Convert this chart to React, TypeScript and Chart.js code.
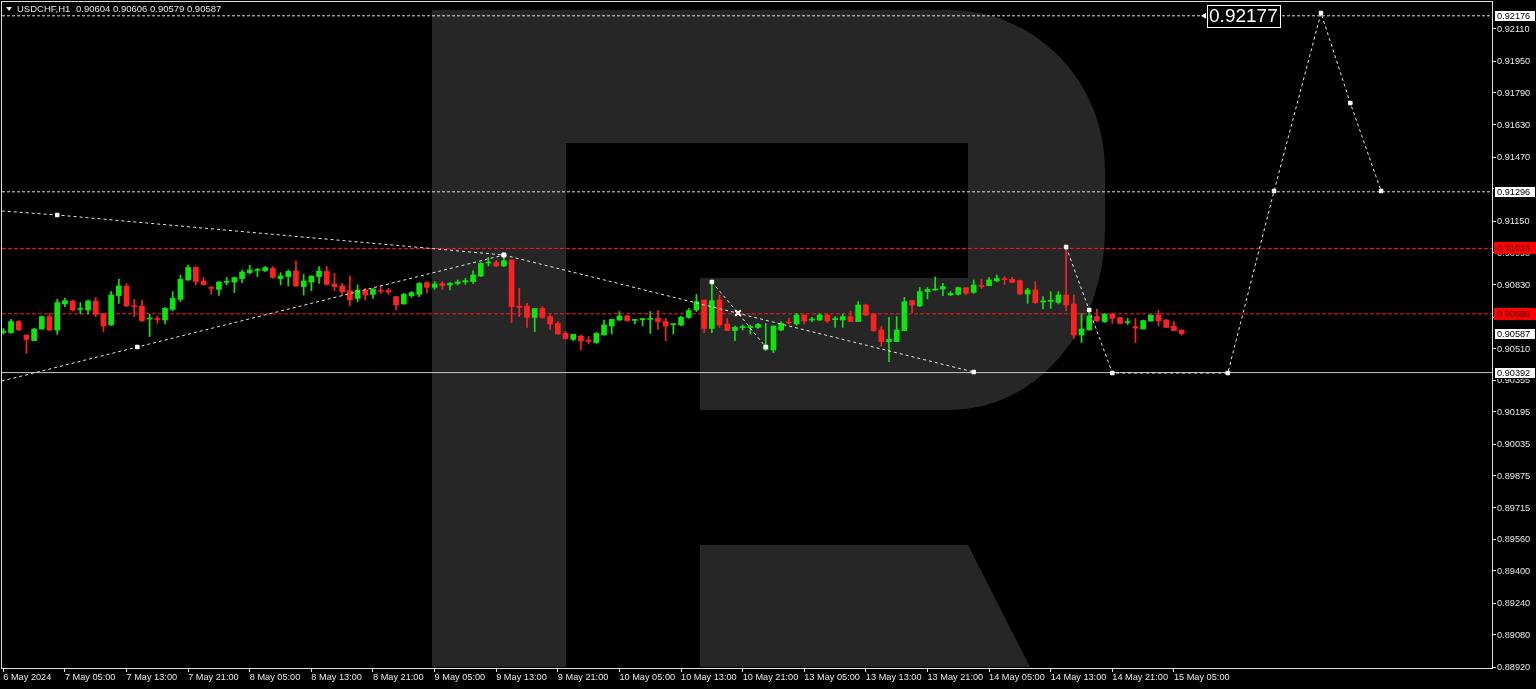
import React, { useEffect, useRef } from 'react';
import { Chart, registerables } from 'chart.js';

Chart.register(...registerables);

// ---- Data (USDCHF H1), bar index 0 = 6 May 21:00 ----
const opens = [
  0.90593, 0.90592, 0.90647, 0.90580, 0.90552, 0.90610, 0.90672, 0.90605, 0.90735, 0.90750,
  0.90708, 0.90705, 0.90750, 0.90685, 0.90630, 0.90777, 0.90825, 0.90727, 0.90725, 0.90660,
  0.90663, 0.90655, 0.90708, 0.90758, 0.90855, 0.90918, 0.90850, 0.90818, 0.90808, 0.90843,
  0.90845, 0.90862, 0.90892, 0.90903, 0.90902, 0.90913, 0.90862, 0.90872, 0.90900, 0.90822,
  0.90845, 0.90872, 0.90898, 0.90835, 0.90825, 0.90802, 0.90763, 0.90805, 0.90783, 0.90803,
  0.90802, 0.90772, 0.90735, 0.90777, 0.90783, 0.90842, 0.90818, 0.90837, 0.90830, 0.90838,
  0.90845, 0.90847, 0.90875, 0.90940, 0.90942, 0.90925, 0.90955, 0.90725, 0.90725, 0.90668,
  0.90713, 0.90672, 0.90638, 0.90588, 0.90558, 0.90575, 0.90552, 0.90542, 0.90580, 0.90625,
  0.90655, 0.90675, 0.90653, 0.90657, 0.90658, 0.90663, 0.90648, 0.90632, 0.90630, 0.90668,
  0.90705, 0.90755, 0.90613, 0.90755, 0.90635, 0.90602, 0.90617, 0.90617, 0.90618, 0.90508,
  0.90505, 0.90605, 0.90645, 0.90635, 0.90680, 0.90655, 0.90655, 0.90680, 0.90657, 0.90655,
  0.90672, 0.90647, 0.90730, 0.90685, 0.90605, 0.90547, 0.90547, 0.90602, 0.90752, 0.90725,
  0.90797, 0.90805, 0.90810, 0.90780, 0.90783, 0.90817, 0.90793, 0.90828, 0.90827, 0.90850,
  0.90862, 0.90858, 0.90852, 0.90785, 0.90805, 0.90745, 0.90748, 0.90743, 0.90780, 0.90735,
  0.90580, 0.90605, 0.90672, 0.90647, 0.90685, 0.90667, 0.90642, 0.90622, 0.90610, 0.90650,
  0.90680, 0.90655, 0.90625, 0.90604,
];
const highs = [
  0.90613, 0.90658, 0.90652, 0.90580, 0.90613, 0.90675, 0.90688, 0.90758, 0.90763, 0.90755,
  0.90742, 0.90755, 0.90768, 0.90688, 0.90797, 0.90858, 0.90838, 0.90758, 0.90755, 0.90683,
  0.90675, 0.90718, 0.90797, 0.90880, 0.90930, 0.90922, 0.90868, 0.90822, 0.90847, 0.90868,
  0.90870, 0.90905, 0.90928, 0.90913, 0.90922, 0.90922, 0.90892, 0.90905, 0.90950, 0.90883,
  0.90875, 0.90922, 0.90922, 0.90888, 0.90838, 0.90875, 0.90830, 0.90813, 0.90813, 0.90822,
  0.90813, 0.90772, 0.90788, 0.90797, 0.90842, 0.90847, 0.90847, 0.90847, 0.90842, 0.90855,
  0.90863, 0.90902, 0.90942, 0.90968, 0.90955, 0.90980, 0.90955, 0.90813, 0.90738, 0.90713,
  0.90722, 0.90680, 0.90647, 0.90597, 0.90583, 0.90580, 0.90572, 0.90592, 0.90655, 0.90658,
  0.90697, 0.90678, 0.90658, 0.90663, 0.90697, 0.90702, 0.90663, 0.90635, 0.90675, 0.90713,
  0.90783, 0.90755, 0.90852, 0.90780, 0.90663, 0.90625, 0.90630, 0.90630, 0.90638, 0.90638,
  0.90625, 0.90647, 0.90663, 0.90688, 0.90680, 0.90668, 0.90685, 0.90685, 0.90672, 0.90685,
  0.90700, 0.90747, 0.90735, 0.90685, 0.90622, 0.90668, 0.90672, 0.90768, 0.90752, 0.90818,
  0.90817, 0.90870, 0.90838, 0.90797, 0.90820, 0.90817, 0.90855, 0.90860, 0.90867, 0.90880,
  0.90872, 0.90867, 0.90855, 0.90813, 0.90847, 0.90772, 0.90797, 0.90797, 0.91015, 0.90780,
  0.90688, 0.90705, 0.90710, 0.90688, 0.90688, 0.90668, 0.90663, 0.90663, 0.90655, 0.90680,
  0.90702, 0.90658, 0.90647, 0.90606,
];
const lows = [
  0.90585, 0.90588, 0.90602, 0.90488, 0.90550, 0.90608, 0.90600, 0.90583, 0.90722, 0.90700,
  0.90685, 0.90685, 0.90672, 0.90597, 0.90628, 0.90738, 0.90722, 0.90672, 0.90647, 0.90572,
  0.90638, 0.90635, 0.90702, 0.90747, 0.90853, 0.90830, 0.90830, 0.90783, 0.90778, 0.90830,
  0.90792, 0.90842, 0.90885, 0.90872, 0.90897, 0.90863, 0.90830, 0.90825, 0.90822, 0.90780,
  0.90802, 0.90838, 0.90830, 0.90802, 0.90780, 0.90725, 0.90747, 0.90755, 0.90763, 0.90788,
  0.90783, 0.90705, 0.90735, 0.90768, 0.90772, 0.90792, 0.90808, 0.90808, 0.90805, 0.90830,
  0.90833, 0.90838, 0.90872, 0.90925, 0.90922, 0.90922, 0.90642, 0.90672, 0.90618, 0.90597,
  0.90663, 0.90608, 0.90585, 0.90558, 0.90552, 0.90505, 0.90535, 0.90538, 0.90580, 0.90585,
  0.90652, 0.90648, 0.90635, 0.90625, 0.90588, 0.90608, 0.90552, 0.90585, 0.90625, 0.90663,
  0.90697, 0.90592, 0.90592, 0.90618, 0.90602, 0.90552, 0.90605, 0.90585, 0.90613, 0.90502,
  0.90492, 0.90602, 0.90635, 0.90630, 0.90635, 0.90647, 0.90652, 0.90642, 0.90618, 0.90618,
  0.90647, 0.90647, 0.90675, 0.90597, 0.90525, 0.90447, 0.90547, 0.90602, 0.90692, 0.90722,
  0.90760, 0.90803, 0.90777, 0.90777, 0.90780, 0.90780, 0.90788, 0.90813, 0.90827, 0.90847,
  0.90833, 0.90842, 0.90780, 0.90738, 0.90738, 0.90710, 0.90713, 0.90735, 0.90702, 0.90563,
  0.90542, 0.90605, 0.90647, 0.90643, 0.90638, 0.90635, 0.90633, 0.90542, 0.90610, 0.90650,
  0.90625, 0.90617, 0.90600, 0.90579,
];
const closes = [
  0.90600, 0.90647, 0.90605, 0.90558, 0.90610, 0.90672, 0.90605, 0.90742, 0.90752, 0.90705,
  0.90713, 0.90750, 0.90683, 0.90625, 0.90780, 0.90825, 0.90725, 0.90722, 0.90652, 0.90665,
  0.90658, 0.90713, 0.90763, 0.90858, 0.90918, 0.90847, 0.90832, 0.90813, 0.90845, 0.90847,
  0.90867, 0.90895, 0.90905, 0.90907, 0.90917, 0.90868, 0.90875, 0.90898, 0.90825, 0.90850,
  0.90875, 0.90900, 0.90833, 0.90822, 0.90797, 0.90755, 0.90805, 0.90780, 0.90808, 0.90798,
  0.90795, 0.90730, 0.90783, 0.90792, 0.90838, 0.90818, 0.90835, 0.90828, 0.90838, 0.90845,
  0.90852, 0.90880, 0.90938, 0.90943, 0.90925, 0.90952, 0.90722, 0.90718, 0.90668, 0.90713,
  0.90668, 0.90635, 0.90585, 0.90562, 0.90583, 0.90550, 0.90548, 0.90588, 0.90630, 0.90658,
  0.90675, 0.90652, 0.90657, 0.90660, 0.90663, 0.90647, 0.90625, 0.90635, 0.90668, 0.90702,
  0.90747, 0.90613, 0.90752, 0.90630, 0.90602, 0.90618, 0.90620, 0.90620, 0.90633, 0.90525,
  0.90625, 0.90638, 0.90640, 0.90680, 0.90650, 0.90658, 0.90680, 0.90650, 0.90660, 0.90672,
  0.90647, 0.90730, 0.90680, 0.90602, 0.90547, 0.90558, 0.90605, 0.90747, 0.90730, 0.90797,
  0.90808, 0.90810, 0.90822, 0.90788, 0.90817, 0.90788, 0.90830, 0.90823, 0.90855, 0.90863,
  0.90857, 0.90843, 0.90785, 0.90805, 0.90742, 0.90748, 0.90752, 0.90780, 0.90730, 0.90580,
  0.90610, 0.90675, 0.90652, 0.90683, 0.90663, 0.90638, 0.90645, 0.90615, 0.90652, 0.90680,
  0.90650, 0.90618, 0.90602, 0.90587,
];

// Time axis labels (every 8 bars)
const xTickIndex = [0, 8, 16, 24, 32, 40, 48, 56, 64, 72, 80, 88, 96, 104, 112, 120, 128, 136, 144, 152];
const xTickLabels = [
  '6 May 2024', '7 May 05:00', '7 May 13:00', '7 May 21:00', '8 May 05:00', '8 May 13:00',
  '8 May 21:00', '9 May 05:00', '9 May 13:00', '9 May 21:00', '10 May 05:00', '10 May 13:00',
  '10 May 21:00', '13 May 05:00', '13 May 13:00', '13 May 21:00', '14 May 05:00', '14 May 13:00',
  '14 May 21:00', '15 May 05:00',
];

// Price axis ticks
const yTickValues = [
  0.92110, 0.91950, 0.91790, 0.91630, 0.91470, 0.91310, 0.91150, 0.90990, 0.90830, 0.90670,
  0.90510, 0.90355, 0.90195, 0.90035, 0.89875, 0.89715, 0.89560, 0.89400, 0.89240, 0.89080, 0.88920,
];
const yTickLabels = [
  '0.92110', '0.91950', '0.91790', '0.91630', '0.91470', '0.91310', '0.91150', '0.90990', '0.90830', '0.90670',
  '0.90510', '0.90355', '0.90195', '0.90035', '0.89875', '0.89715', '0.89560', '0.89400', '0.89240', '0.89080', '0.88920',
];

// Horizontal levels
const levelPrices = [0.92176, 0.91296, 0.91013, 0.90686, 0.90392];
const levelKinds = ['dotWhite', 'dotWhite', 'dashRed', 'dashRed', 'solid'];

// Forecast polylines (bar index, price)
const fcUpperX = [-0.2, 7, 65];
const fcUpperY = [0.91200, 0.91180, 0.90980];
const fcLowerX = [-0.2, 17.4, 65];
const fcLowerY = [0.90350, 0.90520, 0.90980];
const fcDownX = [65, 126];
const fcDownY = [0.90980, 0.90395];
const fcMidX = [92, 95.4, 99];
const fcMidY = [0.90845, 0.90690, 0.90520];
const fcMainX = [138, 141, 144, 159, 165, 171.1, 174.9, 178.9];
const fcMainY = [0.91020, 0.90705, 0.90390, 0.90390, 0.91300, 0.92190, 0.91740, 0.91300];

// Right axis price boxes
const boxPrices = [0.92176, 0.91296, 0.91013, 0.90686, 0.90587, 0.90392];
const boxTexts = ['0.92176', '0.91296', '0.91013', '0.90686', '0.90587', '0.90392'];
const boxKinds = ['white', 'white', 'red', 'red', 'white', 'white'];

// Text object on chart
const noteIndex = 156.3;
const notePrice = 0.92176;
const noteText = '0.92177';

const headerSymbol = 'USDCHF,H1';
const headerValues = '0.90604 0.90606 0.90579 0.90587';

const X_MIN = -0.17;
const X_MAX = 193.3;
const Y_MIN = 0.88915;
const Y_MAX = 0.92245;

const FONT = 'Liberation Sans';
const BULL = '#0ce60c';
const BEAR = '#ff2020';
const TEXT = '#e6e6e6';
const WM = '#262626';

const pts = (xs: number[], ys: number[]) => xs.map((x, i) => ({ x, y: ys[i] }));

const zeroPadding = (s: any) => {
  s.paddingLeft = 0;
  s.paddingRight = 0;
  s.paddingTop = 0;
  s.paddingBottom = 0;
};

export default function App() {
  const ref = useRef<HTMLCanvasElement | null>(null);

  useEffect(() => {
    const canvas = ref.current;
    if (!canvas) return;

    const colors = opens.map((o, i) => (closes[i] >= o ? BULL : BEAR));

    const levelDatasets = levelPrices.map((p, i) => {
      const kind = levelKinds[i];
      return {
        type: 'line' as const,
        data: [{ x: X_MIN, y: p }, { x: X_MAX, y: p }],
        borderColor: kind === 'dashRed' ? '#ff1a1a' : kind === 'solid' ? '#c8c8c8' : '#dcdcdc',
        borderWidth: 1,
        borderDash: kind === 'dashRed' ? [4, 2] : kind === 'solid' ? [] : [3, 2],
        pointRadius: 0,
        order: 5,
      };
    });

    const fcStyle = (data: { x: number; y: number }[], radii: number[], styles?: string[]) => ({
      type: 'line' as const,
      data,
      borderColor: '#e6e6e6',
      borderWidth: 1,
      borderDash: [3, 3],
      pointRadius: radii,
      pointStyle: styles || 'rect',
      pointBackgroundColor: '#ffffff',
      pointBorderColor: '#ffffff',
      pointBorderWidth: styles ? styles.map((s) => (s === 'crossRot' ? 2 : 1)) : 1,
      tension: 0,
      order: 0,
    });

    const chart = new Chart(canvas, {
      type: 'bar',
      data: {
        datasets: [
          ...levelDatasets,
          {
            type: 'bar',
            data: opens.map((_, i) => ({ x: i, y: [lows[i], highs[i]] })),
            backgroundColor: colors,
            borderWidth: 0,
            barThickness: 1,
            grouped: false,
            order: 3,
          } as any,
          {
            type: 'bar',
            data: opens.map((o, i) => ({ x: i, y: [o, closes[i]] })),
            backgroundColor: colors,
            borderWidth: 0,
            barThickness: 5,
            minBarLength: 1,
            grouped: false,
            order: 2,
          } as any,
          fcStyle(pts(fcUpperX, fcUpperY), [0, 2.5, 2.5]),
          fcStyle(pts(fcLowerX, fcLowerY), [0, 2.5, 2.5]),
          fcStyle(pts(fcDownX, fcDownY), [2.5, 2.5]),
          fcStyle(pts(fcMidX, fcMidY), [2.5, 4, 2.5], ['rect', 'crossRot', 'rect']),
          fcStyle(pts(fcMainX, fcMainY), [2.5, 2.5, 2.5, 2.5, 2.5, 2.5, 2.5, 2.5]),
        ] as any,
      },
      options: {
        animation: false,
        responsive: false,
        devicePixelRatio: 1,
        layout: { autoPadding: false, padding: { left: 2, top: 2, right: 0, bottom: 0 } },
        plugins: { legend: { display: false }, tooltip: { enabled: false }, title: { display: false } },
        scales: {
          x: {
            type: 'linear',
            min: X_MIN,
            max: X_MAX,
            offset: false,
            bounds: 'data',
            grid: { display: true, offset: false, drawOnChartArea: false, drawTicks: true, tickLength: 4, color: '#e0e0e0' },
            border: { display: false },
            afterBuildTicks: (s: any) => {
              s.ticks = xTickIndex.map((v) => ({ value: v }));
            },
            afterFit: (s: any) => {
              s.height = 21;
              zeroPadding(s);
            },
            ticks: {
              autoSkip: false,
              maxRotation: 0,
              minRotation: 0,
              align: 'start',
              padding: 0,
              color: TEXT,
              font: { family: FONT, size: 9.2 },
              callback: (_v: any, idx: number) => xTickLabels[idx],
            },
          },
          y: {
            type: 'linear',
            position: 'right',
            min: Y_MIN,
            max: Y_MAX,
            beginAtZero: false,
            bounds: 'data',
            grid: { display: true, drawOnChartArea: false, drawTicks: true, tickLength: 4, color: '#e0e0e0' },
            border: { display: false },
            afterBuildTicks: (s: any) => {
              s.ticks = yTickValues.map((v) => ({ value: v }));
            },
            afterFit: (s: any) => {
              s.width = 44;
              zeroPadding(s);
            },
            ticks: {
              autoSkip: false,
              padding: 1,
              color: TEXT,
              font: { family: FONT, size: 9.2 },
              callback: (_v: any, idx: number) => yTickLabels[idx],
            },
          },
        },
      } as any,
      plugins: [
        {
          id: 'decor',
          beforeDraw(c: any) {
            const ctx = c.ctx as CanvasRenderingContext2D;
            ctx.save();
            ctx.fillStyle = '#000';
            ctx.fillRect(0, 0, c.width, c.height);
            // watermark logo
            ctx.fillStyle = WM;
            ctx.beginPath();
            ctx.moveTo(432, 10);
            ctx.lineTo(950, 10);
            ctx.ellipse(950, 170, 155, 160, 0, -Math.PI / 2, 0, false);
            ctx.lineTo(1105, 230);
            ctx.ellipse(950, 230, 155, 180, 0, 0, Math.PI / 2, false);
            ctx.lineTo(700, 410);
            ctx.lineTo(700, 278);
            ctx.lineTo(968, 278);
            ctx.lineTo(968, 143);
            ctx.lineTo(566, 143);
            ctx.lineTo(566, 667);
            ctx.lineTo(432, 667);
            ctx.closePath();
            ctx.fill();
            ctx.beginPath();
            ctx.moveTo(700, 545);
            ctx.lineTo(968, 545);
            ctx.lineTo(1030, 667);
            ctx.lineTo(700, 667);
            ctx.closePath();
            ctx.fill();
            ctx.restore();
          },
          afterDraw(c: any) {
            const ctx = c.ctx as CanvasRenderingContext2D;
            const a = c.chartArea;
            const ys = c.scales.y;
            const xs = c.scales.x;
            ctx.save();
            // frame
            ctx.strokeStyle = '#e0e0e0';
            ctx.lineWidth = 1;
            ctx.strokeRect(a.left - 0.5, a.top - 0.5, a.right - a.left + 1, a.bottom - a.top + 1);
            // right-axis price boxes
            ctx.font = `9.2px "${FONT}"`;
            ctx.textBaseline = 'middle';
            ctx.textAlign = 'left';
            boxPrices.forEach((p, i) => {
              const y = Math.round(ys.getPixelForValue(p));
              const red = boxKinds[i] === 'red';
              ctx.fillStyle = red ? '#ff0000' : '#ffffff';
              ctx.fillRect(a.right + 2, y - 6, 42, 12);
              if (!red) {
                ctx.strokeStyle = '#000';
                ctx.strokeRect(a.right + 2.5, y - 5.5, 41, 11);
              }
              ctx.fillStyle = red ? '#400000' : '#000000';
              ctx.fillText(boxTexts[i], a.right + 5, y + 0.5);
            });
            // text object
            const nx = xs.getPixelForValue(noteIndex);
            const ny = ys.getPixelForValue(notePrice);
            ctx.font = `19px "${FONT}"`;
            const w = ctx.measureText(noteText).width + 4;
            ctx.fillStyle = '#000';
            ctx.fillRect(nx, ny - 11, w, 22);
            ctx.strokeStyle = '#ffffff';
            ctx.strokeRect(Math.round(nx) + 0.5, Math.round(ny - 11) + 0.5, Math.round(w), 22);
            ctx.fillStyle = '#ffffff';
            ctx.fillText(noteText, nx + 2, ny + 1);
            ctx.beginPath();
            ctx.moveTo(nx - 1, ny - 3);
            ctx.lineTo(nx - 6, ny);
            ctx.lineTo(nx - 1, ny + 3);
            ctx.closePath();
            ctx.fill();
            // header
            ctx.fillStyle = TEXT;
            ctx.beginPath();
            ctx.moveTo(6, 7);
            ctx.lineTo(12, 7);
            ctx.lineTo(9, 11);
            ctx.closePath();
            ctx.fill();
            ctx.font = `9.5px "${FONT}"`;
            ctx.fillText(headerSymbol, 17, 9.5);
            ctx.fillText(headerValues, 76, 9.5);
            ctx.restore();
          },
        },
      ],
    });

    return () => chart.destroy();
  }, []);

  return (
    <div style={{ position: 'fixed', left: 0, top: 0, width: 1536, height: 689, background: '#000' }}>
      <canvas ref={ref} width={1536} height={689} style={{ display: 'block', width: 1536, height: 689 }} />
    </div>
  );
}
